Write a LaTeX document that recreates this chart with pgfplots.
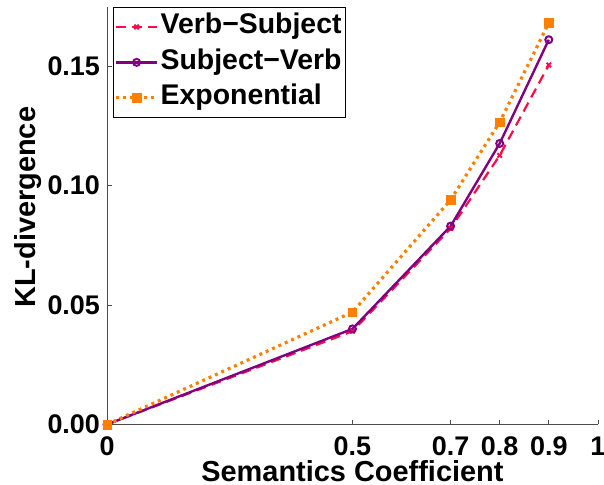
\documentclass[border=0pt]{standalone}
\usepackage{pgfplots}
\pgfplotsset{compat=1.18}
\usepackage{fontspec}
\setmainfont{Liberation Sans}
\definecolor{vsred}{RGB}{255,10,70}
\definecolor{svpurple}{RGB}{128,0,128}
\definecolor{exporange}{RGB}{255,128,0}
\begin{document}
\begin{tikzpicture}
\begin{axis}[
  scale only axis,
  width=492pt, height=418.5pt,
  xmin=0, xmax=1, ymin=0, ymax=0.1747,
  axis x line=bottom, axis y line=left,
  axis line style={-, draw=black!70, line width=0.8pt},
  xtick={0,0.5,0.7,0.8,0.9,1},
  xticklabels={0,0.5,0.7,0.8,0.9,1},
  ytick={0,0.05,0.10,0.15},
  yticklabel style={anchor=east, xshift=-3.6pt, /pgf/number format/fixed, /pgf/number format/fixed zerofill, /pgf/number format/precision=2},
  /pgf/number format/assume math mode=true,
  tick style={draw=black!70, line width=0.6pt},
  tick align=inside,
  major tick length=4.5pt,
  ticklabel style={font=\fontsize{27}{30}\selectfont\bfseries},
  xticklabel style={anchor=base, yshift=-31.5pt, inner xsep=0.5pt, inner ysep=1pt},
  xlabel={Semantics Coefficient},
  ylabel={KL-divergence},
  label style={font=\fontsize{29}{32}\selectfont\bfseries},
  xlabel style={at={(axis description cs:0.5,-0.1355)}, anchor=base, inner sep=0.5pt},
  ylabel style={at={(axis description cs:-0.145,0.52)}, anchor=base},
  legend style={at={(axis description cs:0.0114,0.9992)}, anchor=north west, draw=black, line width=0.8pt,
    font=\fontsize{28.5}{31}\selectfont\bfseries, inner xsep=1.5pt, inner ysep=3.3pt, row sep=3.5pt,
    nodes={inner sep=2pt, text height=21pt, text depth=7pt},
    legend cell align=left},
  legend image code/.code={%
    \draw[mark repeat=2,mark phase=2,#1] plot coordinates {(0pt,0pt) (20.5pt,0pt) (41pt,0pt)};},
]
\addplot[color=vsred, line width=2.2pt, dash pattern=on 10pt off 6pt, mark=x, mark size=3.2pt, mark options={solid, line width=2pt}]
  coordinates {(0,0) (0.5,0.039) (0.7,0.082) (0.8,0.1126) (0.9,0.1504)};
\addlegendentry{Verb−Subject}
\addplot[color=svpurple, line width=2.4pt, mark=o, mark size=3.5pt, mark options={solid, line width=2pt}]
  coordinates {(0,0) (0.5,0.040) (0.7,0.083) (0.8,0.1176) (0.9,0.161)};
\addlegendentry{Subject−Verb}
\addplot[color=exporange, line width=3.2pt, dash pattern=on 3pt off 4pt, mark=square*, mark size=4.3pt, mark options={solid, line width=0.5pt, fill=exporange}]
  coordinates {(0,0) (0.5,0.047) (0.7,0.094) (0.8,0.1265) (0.9,0.168)};
\addlegendentry{Exponential}
\coordinate (bbll) at (axis description cs:-0.2181,-0.14456);
\coordinate (bbur) at (axis description cs:1.0125,1.01673);
\end{axis}
\pgfresetboundingbox
\path[use as bounding box] (bbll) rectangle (bbur);
\end{tikzpicture}
\end{document}
